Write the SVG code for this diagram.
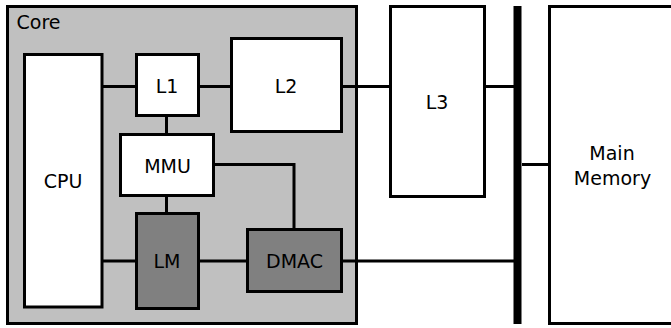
<svg xmlns="http://www.w3.org/2000/svg" width="671" height="328" viewBox="0 0 671 328">
<style>
.box{fill:#fff;stroke:#000;stroke-width:3}
.dark{fill:#808080;stroke:#000;stroke-width:3}
.core{fill:#c0c0c0;stroke:#000;stroke-width:3}
.lbl{font-family:"DejaVu Sans",sans-serif;font-size:19px;fill:#000;text-anchor:middle}
.wire{fill:none;stroke:#000;stroke-width:3}
</style>
<rect width="671" height="328" fill="#fff"/>
<g id="core"><rect class="core" x="7.5" y="6.5" width="349" height="317"/><text class="lbl" x="16.5" y="29.3" style="text-anchor:start">Core</text></g>
<g id="connectors">
<path class="wire" d="M102 86.5H136.5M198.5 86.5H231.5M341.5 86.5H390.5M484.5 86.5H514M166.5 115.5V134.5M166.5 195.5V213.5M102 261H136.5M198.5 261H247.5M341.5 261H514M213.5 164.5H294V229.5M522 164.5H549.5"/>
<line x1="517.5" y1="6" x2="517.5" y2="324" stroke="#000" stroke-width="8"/>
</g>
<g id="cpu"><rect class="box" x="24.5" y="54.5" width="77.5" height="252.5"/><text class="lbl" x="63" y="188.3">CPU</text></g>
<g id="l1"><rect class="box" x="136.5" y="54.5" width="62" height="61"/><text class="lbl" x="167" y="93.3">L1</text></g>
<g id="l2"><rect class="box" x="231.5" y="38.5" width="110" height="93"/><text class="lbl" x="286" y="93.3">L2</text></g>
<g id="mmu"><rect class="box" x="120.5" y="134.5" width="93" height="61"/><text class="lbl" x="167.5" y="172.7">MMU</text></g>
<g id="lm"><rect class="dark" x="136.5" y="213.5" width="62" height="95"/><text class="lbl" x="167" y="268.3">LM</text></g>
<g id="dmac"><rect class="dark" x="247.5" y="229.5" width="94" height="62"/><text class="lbl" x="294.5" y="268.3">DMAC</text></g>
<g id="l3"><rect class="box" x="390.5" y="6.5" width="94" height="190"/><text class="lbl" x="437" y="109">L3</text></g>
<g id="mainmem"><rect class="box" x="549.5" y="6.5" width="125" height="317"/><text class="lbl" x="612" y="160">Main</text><text class="lbl" x="612.5" y="185">Memory</text></g>
</svg>
